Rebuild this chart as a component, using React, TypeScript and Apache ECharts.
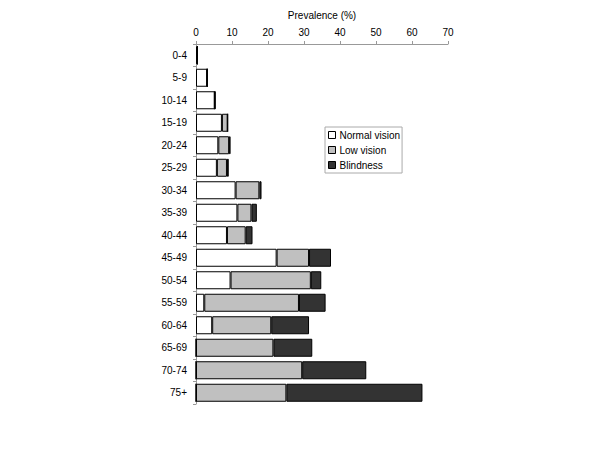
import React, { useEffect, useRef } from "react";
import * as echarts from "echarts";

const categories = ["0-4","5-9","10-14","15-19","20-24","25-29","30-34","35-39","40-44","45-49","50-54","55-59","60-64","65-69","70-74","75+"];
const normalVision = [0.4, 3.1, 5.2, 7.2, 6.2, 5.8, 11.0, 11.5, 8.6, 22.4, 9.6, 2.3, 4.5, 0, 0, 0];
const lowVision = [0, 0, 0, 1.6, 3.0, 2.8, 6.6, 3.9, 5.2, 9.0, 22.3, 26.3, 16.4, 21.5, 29.5, 25.1];
const blindness = [0, 0, 0.2, 0, 0.4, 0.5, 0.6, 1.5, 1.9, 6.1, 2.9, 7.4, 10.5, 10.8, 17.8, 37.8];

export default function App() {
  const ref = useRef<HTMLDivElement>(null);
  useEffect(() => {
    const chart = echarts.init(ref.current!, undefined, { renderer: "svg" });
    const font = "Liberation Sans, Arial, sans-serif";
    const mk = (name: string, data: number[], color: string) => ({
      name,
      type: "bar",
      stack: "total",
      data,
      barCategoryGap: "20%",
      itemStyle: { color, borderColor: "#000", borderWidth: 1 },
    });
    chart.setOption({
      animation: false,
      textStyle: { fontFamily: font },
      grid: { left: 196, right: 152, top: 44, height: 360 },
      legend: {
        orient: "vertical",
        left: 325,
        top: 127,
        itemWidth: 7,
        itemHeight: 7,
        itemGap: 5,
        padding: [3, 2, 3, 3],
        borderColor: "#aaa",
        borderWidth: 1,
        icon: "rect",
        textStyle: { fontSize: 10, color: "#000", fontFamily: font, padding: [0, 0, 0, -1] },
        data: [
          { name: "Normal vision", itemStyle: { color: "#fff", borderColor: "#000", borderWidth: 1 } },
          { name: "Low vision", itemStyle: { color: "#c0c0c0", borderColor: "#000", borderWidth: 1 } },
          { name: "Blindness", itemStyle: { color: "#333", borderColor: "#000", borderWidth: 1 } },
        ],
      },
      xAxis: {
        type: "value",
        position: "top",
        min: 0,
        max: 70,
        interval: 10,
        name: "Prevalence (%)",
        nameLocation: "middle",
        nameGap: 24,
        nameTextStyle: { fontSize: 10, color: "#000", fontFamily: font },
        axisLine: { show: true, lineStyle: { color: "#999" } },
        axisTick: { show: true, length: 3, lineStyle: { color: "#999" } },
        axisLabel: { fontSize: 10, color: "#000", margin: 7, fontFamily: font },
        splitLine: { show: false },
      },
      yAxis: {
        type: "category",
        data: categories,
        inverse: true,
        axisLine: { show: true, lineStyle: { color: "#999" } },
        axisTick: { show: true, length: 3, lineStyle: { color: "#999" } },
        axisLabel: { fontSize: 10, color: "#000", margin: 9, fontFamily: font },
      },
      series: [
        mk("Normal vision", normalVision, "#fff"),
        mk("Low vision", lowVision, "#c0c0c0"),
        mk("Blindness", blindness, "#333"),
      ],
    });
    return () => chart.dispose();
  }, []);
  return <div ref={ref} style={{ width: 600, height: 450, margin: -8 }} />;
}
